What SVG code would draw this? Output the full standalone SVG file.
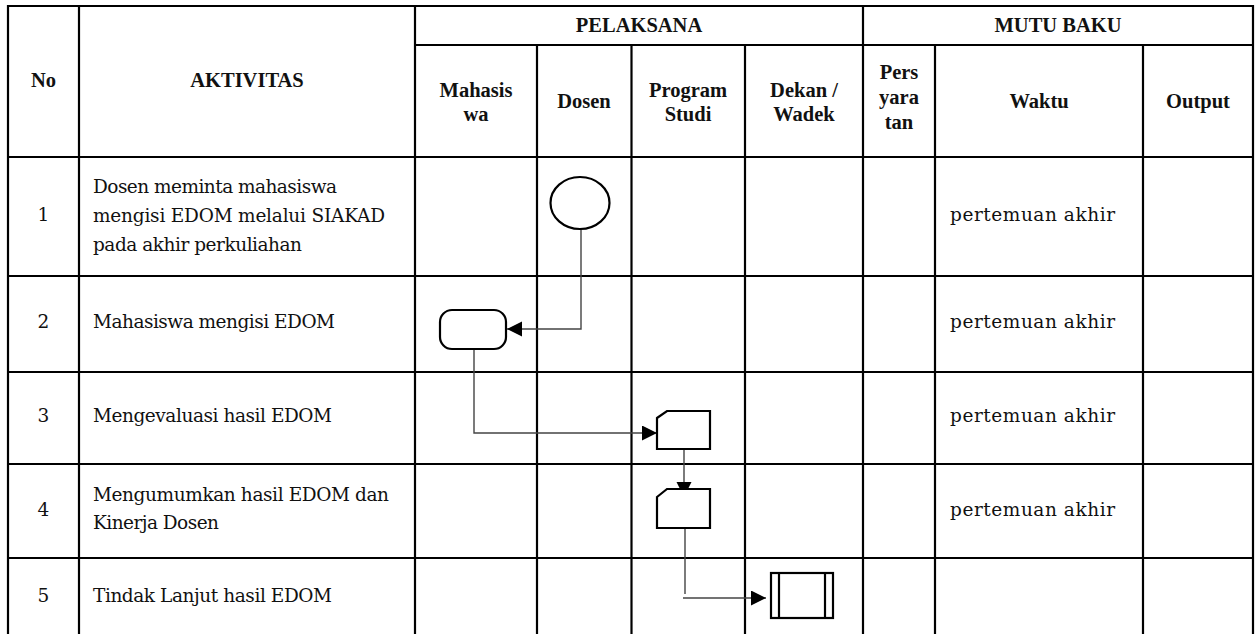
<svg xmlns="http://www.w3.org/2000/svg" width="1256" height="634" viewBox="0 0 1256 634">
<style>
.grid line{stroke:#000;stroke-width:2.2}
.h{font-family:"Liberation Serif","Times New Roman",serif;font-weight:bold;font-size:20.5px;fill:#111;text-anchor:middle}
.b{font-family:"DejaVu Serif","Liberation Serif",serif;font-size:18.5px;fill:#111}
.n{text-anchor:middle}
.shape{fill:#fff;stroke:#000;stroke-width:2.2}
.conn{fill:none;stroke:#444;stroke-width:1.4}
</style>
<defs>
<marker id="arr" markerUnits="userSpaceOnUse" markerWidth="16" markerHeight="16" refX="15" refY="7.5" orient="auto">
<path d="M0,0 L15,7.5 L0,15 Z" fill="#000"/>
</marker>
</defs>
<rect width="1256" height="634" fill="#fff"/>
<g class="grid" id="table">
<line x1="7" y1="6" x2="1254" y2="6"/>
<line x1="415" y1="45" x2="1254" y2="45"/>
<line x1="7" y1="157" x2="1254" y2="157"/>
<line x1="7" y1="276" x2="1254" y2="276"/>
<line x1="7" y1="372" x2="1254" y2="372"/>
<line x1="7" y1="464" x2="1254" y2="464"/>
<line x1="7" y1="558" x2="1254" y2="558"/>
<line x1="8" y1="5" x2="8" y2="634"/>
<line x1="79" y1="5" x2="79" y2="634"/>
<line x1="415" y1="5" x2="415" y2="634"/>
<line x1="537" y1="45" x2="537" y2="634"/>
<line x1="631.5" y1="45" x2="631.5" y2="634"/>
<line x1="745" y1="45" x2="745" y2="634"/>
<line x1="863" y1="5" x2="863" y2="634"/>
<line x1="935" y1="45" x2="935" y2="634"/>
<line x1="1143" y1="45" x2="1143" y2="634"/>
<line x1="1253" y1="5" x2="1253" y2="634"/>
</g>
<g id="headers">
<text class="h" x="43.5" y="87">No</text>
<text class="h" x="247" y="87">AKTIVITAS</text>
<text class="h" x="639" y="32">PELAKSANA</text>
<text class="h" x="1058" y="32">MUTU BAKU</text>
<text class="h" x="476" y="96.5">Mahasis</text>
<text class="h" x="476" y="120.5">wa</text>
<text class="h" x="584" y="108">Dosen</text>
<text class="h" x="688" y="96.5">Program</text>
<text class="h" x="688" y="120.5">Studi</text>
<text class="h" x="804" y="96.5">Dekan /</text>
<text class="h" x="804" y="120.5">Wadek</text>
<text class="h" x="899" y="79">Pers</text>
<text class="h" x="899" y="104">yara</text>
<text class="h" x="899" y="129">tan</text>
<text class="h" x="1039" y="108">Waktu</text>
<text class="h" x="1198" y="108">Output</text>
</g>
<g id="row1">
<text class="b n" x="43.5" y="221">1</text>
<text class="b" x="93" y="192.5" textLength="244">Dosen meminta mahasiswa</text>
<text class="b" x="93" y="222" textLength="292">mengisi EDOM melalui SIAKAD</text>
<text class="b" x="93" y="251" textLength="209">pada akhir perkuliahan</text>
<text class="b" x="950" y="221" textLength="165">pertemuan akhir</text>
</g>
<g id="row2">
<text class="b n" x="43.5" y="328">2</text>
<text class="b" x="93" y="328" textLength="242">Mahasiswa mengisi EDOM</text>
<text class="b" x="950" y="328" textLength="165">pertemuan akhir</text>
</g>
<g id="row3">
<text class="b n" x="43.5" y="422">3</text>
<text class="b" x="93" y="422" textLength="239">Mengevaluasi hasil EDOM</text>
<text class="b" x="950" y="422" textLength="165">pertemuan akhir</text>
</g>
<g id="row4">
<text class="b n" x="43.5" y="515.5">4</text>
<text class="b" x="93" y="501" textLength="296">Mengumumkan hasil EDOM dan</text>
<text class="b" x="93" y="529" textLength="126">Kinerja Dosen</text>
<text class="b" x="950" y="515.5" textLength="165">pertemuan akhir</text>
</g>
<g id="row5">
<text class="b n" x="43.5" y="602">5</text>
<text class="b" x="93" y="602" textLength="239">Tindak Lanjut hasil EDOM</text>
</g>
<g id="connectors">
<polyline class="conn" points="581,229 581,329 507,329" marker-end="url(#arr)"/>
<polyline class="conn" points="474,350 474,433 657,433" marker-end="url(#arr)"/>
<polyline class="conn" points="684,449 684,497" marker-end="url(#arr)"/>
<polyline class="conn" points="685,529 685,594"/>
<polyline class="conn" points="683,598 766,598" marker-end="url(#arr)"/>
</g>
<g id="node-start">
<ellipse class="shape" cx="580" cy="203" rx="29.5" ry="26"/>
</g>
<g id="node-isi">
<rect class="shape" x="440" y="310" width="66" height="39" rx="12" ry="12"/>
</g>
<g id="node-evaluasi">
<path class="shape" d="M657,418 L667,411 L710,411 L710,449 L657,449 Z"/>
</g>
<g id="node-umumkan">
<path class="shape" d="M657,497 L667,489 L710,489 L710,528 L657,528 Z"/>
</g>
<g id="node-tindak">
<rect class="shape" x="771" y="573" width="62" height="45"/>
<line class="shape" x1="779" y1="573" x2="779" y2="618"/>
<line class="shape" x1="825" y1="573" x2="825" y2="618"/>
</g>
</svg>
